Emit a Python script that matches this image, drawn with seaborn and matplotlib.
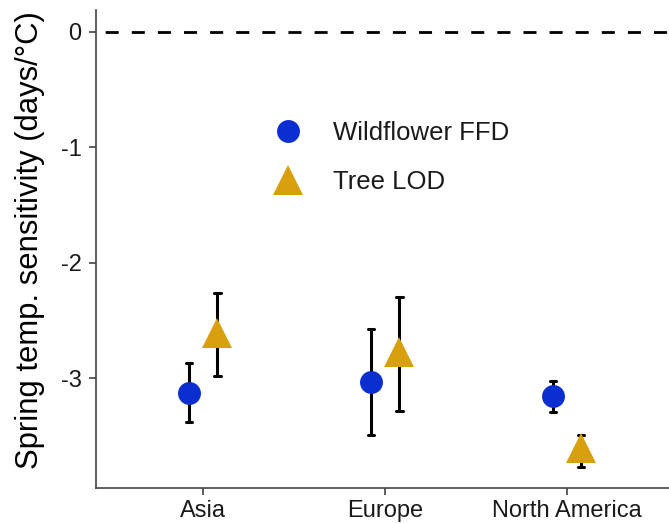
import pandas as pd
import matplotlib
matplotlib.use('Agg')
import matplotlib.pyplot as plt
import seaborn as sns

# ====== data ======
regions = ['Asia', 'Europe', 'North America']
groups = ['Wildflower FFD', 'Tree LOD']
ffd_mean = [-3.13, -3.03, -3.15]
ffd_low = [-3.38, -3.49, -3.29]
ffd_high = [-2.87, -2.57, -3.02]
lod_mean = [-2.61, -2.77, -3.60]
lod_low = [-2.98, -3.28, -3.77]
lod_high = [-2.26, -2.30, -3.49]

# 每组三行：下限 / 中心 / 上限 -> median + 100% 区间
rows = []
for g, m, lo, hi in [(groups[0], ffd_mean, ffd_low, ffd_high),
                     (groups[1], lod_mean, lod_low, lod_high)]:
    for r, a, b, c in zip(regions, lo, m, hi):
        for v in (a, b, c):
            rows.append({'region': r, 'group': g, 'value': v})
data = pd.DataFrame(rows)

sns.set_style('white')
plt.rcParams['font.family'] = ['Liberation Sans', 'DejaVu Sans']
plt.rcParams['text.color'] = 'black'

fig = plt.figure(figsize=(6.69, 5.23), dpi=100)
ax = fig.add_axes([0.1435, 0.067, 0.8565, 0.914])

ax.axhline(0, color='black', linestyle=(6.1, (4.7, 4.7)), linewidth=2.0, zorder=1)

sns.pointplot(
    data=data, x='region', y='value', hue='group',
    order=regions, hue_order=groups,
    estimator='median', errorbar=('pi', 100),
    dodge=0.155, linestyle='none',
    markers=['o', '^'], markersize=16, markeredgewidth=0,
    palette=['#0a2ecf', '#d9a00e'],
    capsize=0.035, err_kws={'color': 'black', 'linewidth': 2.2, 'zorder': 2},
    ax=ax,
)
marker_size = {'o': 16.5, '^': 21.5}
for line in ax.lines:
    mk = line.get_marker()
    if mk in marker_size:
        line.set_markersize(marker_size[mk])
        line.set_zorder(3)

ax.set_xlim(-0.59, 2.56)
ax.set_ylim(-3.95, 0.19)
ax.set_yticks([0, -1, -2, -3])
ax.set_yticklabels(['0', '-1', '-2', '-3'])
ax.set_xlabel('')
ax.set_ylabel('Spring temp. sensitivity (days/°C)', fontsize=22.3, color='black')
ax.yaxis.set_label_coords(-0.089, 0.519)
ax.tick_params(axis='both', labelsize=17, length=5, width=1.2, color='#444444',
               left=True, bottom=True, labelcolor='#1a1a1a')
ax.tick_params(axis='y', pad=5.5)
ax.tick_params(axis='x', pad=3.5)
for s in ['top', 'right']:
    ax.spines[s].set_visible(False)
for s in ['left', 'bottom']:
    ax.spines[s].set_color('#444444')
    ax.spines[s].set_linewidth(1.2)

handles, labels = ax.get_legend_handles_labels()
leg = ax.legend(handles, labels, frameon=False, fontsize=18.5,
                loc='center left', bbox_to_anchor=(0.357, 0.699),
                bbox_transform=fig.transFigure,
                handletextpad=0.75, labelspacing=1.0)
for h in leg.legend_handles:
    mk = h.get_marker()
    if mk in marker_size:
        h.set_markersize(marker_size[mk])
for t in leg.get_texts():
    t.set_color('#1a1a1a')

plt.savefig('out.png', dpi=100)
